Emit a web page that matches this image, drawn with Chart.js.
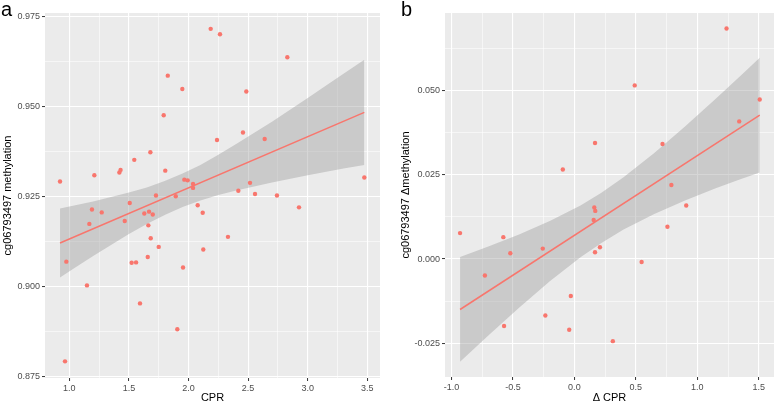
<!DOCTYPE html>
<html>
<head>
<meta charset="utf-8">
<script src="https://cdn.jsdelivr.net/npm/chart.js@4.4.1/dist/chart.umd.min.js"></script>
<style>
  body { margin: 0; background: #fff; width: 778px; height: 405px; position: relative; overflow: hidden; font-family: 'Liberation Sans', Arial, sans-serif; }
  .panel { position: absolute; top: 0; }
  .etiqueta { position: absolute; top: -1px; font-size: 20px; line-height: 20px; color: #000; }
</style>
</head>
<body>
<canvas id="graficoA" class="panel" width="390" height="405" style="left:0"></canvas>
<canvas id="graficoB" class="panel" width="388" height="405" style="left:390px"></canvas>
<div class="etiqueta" style="left:1px">a</div>
<div class="etiqueta" style="left:401px">b</div>
<script>
// Panel a: CPR vs metilación
const cprA = [0.922, 1.210, 1.420, 1.430, 1.545, 1.680, 1.792, 1.805, 1.826, 1.948, 1.965, 1.993, 2.038, 2.038, 2.186, 2.264, 2.239, 2.418, 2.457, 2.485, 2.516, 2.558, 2.639, 2.742, 2.829, 3.475, 1.727, 1.893, 1.190, 1.272, 1.168, 1.507, 1.465, 1.629, 1.669, 1.700, 1.663, 1.683, 1.750, 1.658, 1.523, 1.560, 1.954, 2.077, 2.119, 2.124, 2.331, 2.927, 0.975, 1.148, 1.593, 1.906, 0.964];
const methA = [0.9293, 0.9310, 0.9318, 0.9325, 0.9353, 0.9374, 0.9477, 0.9323, 0.9587, 0.9550, 0.9298, 0.9296, 0.9286, 0.9275, 0.9717, 0.9702, 0.9408, 0.9267, 0.9429, 0.9543, 0.9289, 0.9258, 0.9411, 0.9254, 0.9638, 0.9304, 0.9254, 0.9252, 0.9215, 0.9207, 0.9175, 0.9233, 0.9183, 0.9204, 0.9209, 0.9201, 0.9171, 0.9135, 0.9111, 0.9083, 0.9067, 0.9068, 0.9054, 0.9227, 0.9206, 0.9104, 0.9139, 0.9221, 0.9070, 0.9004, 0.8954, 0.8882, 0.8793];
const fitXA = [0.922, 3.475];
const fitYA = [0.9122, 0.9485];
const bandXA = [0.922, 1.05, 1.2, 1.5, 1.65, 1.8, 1.95, 2.1, 2.25, 2.4, 2.7, 3.0, 3.3, 3.475];
const bandLoA = [0.9026, 0.9054, 0.9086, 0.9147, 0.9175, 0.9200, 0.9222, 0.9240, 0.9255, 0.9268, 0.9290, 0.9310, 0.9329, 0.9339];
const bandHiA = [0.9218, 0.9227, 0.9237, 0.9262, 0.9276, 0.9294, 0.9315, 0.9339, 0.9367, 0.9397, 0.9459, 0.9525, 0.9592, 0.9631];
const xMayoresA = [1.0, 1.5, 2.0, 2.5, 3.0, 3.5];
const xMenoresA = [1.25, 1.75, 2.25, 2.75, 3.25];
const xEtiquetasA = ['1.0', '1.5', '2.0', '2.5', '3.0', '3.5'];
const yMayoresA = [0.875, 0.9, 0.925, 0.95, 0.975];
const yMenoresA = [0.8875, 0.9125, 0.9375, 0.9625];
const yEtiquetasA = ['0.875', '0.900', '0.925', '0.950', '0.975'];

// Panel b: cambios (delta)
const dCprB = [1.238, 0.491, 1.508, 1.341, 0.168, 0.717, -0.094, 0.789, 0.910, 0.162, 0.170, 0.157, 0.757, -0.930, -0.578, -0.521, -0.257, 0.168, 0.208, 0.547, -0.728, -0.029, -0.236, -0.572, -0.042, 0.313];
const dMethB = [0.0685, 0.0516, 0.0474, 0.0409, 0.0345, 0.0342, 0.0266, 0.0220, 0.0159, 0.0153, 0.0143, 0.0116, 0.0096, 0.0077, 0.0065, 0.0017, 0.0031, 0.0020, 0.0035, -0.0009, -0.0049, -0.0110, -0.0168, -0.0199, -0.0210, -0.0244];
const fitXB = [-0.930, 1.508];
const fitYB = [-0.0150, 0.0428];
const bandXB = [-0.930, -0.70, -0.45, -0.20, 0.05, 0.22, 0.40, 0.65, 0.90, 1.15, 1.35, 1.508];
const bandLoB = [-0.0305, -0.0227, -0.0145, -0.0066, 0.0005, 0.0048, 0.0088, 0.0134, 0.0174, 0.0210, 0.0237, 0.0257];
const bandHiB = [0.0006, 0.0037, 0.0073, 0.0113, 0.0159, 0.0197, 0.0243, 0.0315, 0.0394, 0.0476, 0.0544, 0.0598];
const xMayoresB = [-1.0, -0.5, 0.0, 0.5, 1.0, 1.5];
const xMenoresB = [-0.75, -0.25, 0.25, 0.75, 1.25];
const xEtiquetasB = ['-1.0', '-0.5', '0.0', '0.5', '1.0', '1.5'];
const yMayoresB = [-0.025, 0.0, 0.025, 0.05];
const yMenoresB = [-0.0125, 0.0125, 0.0375, 0.0625];
const yEtiquetasB = ['-0.025', '0.000', '0.025', '0.050'];

const fuente = "'Liberation Sans', Arial, sans-serif";
const colorPunto = '#F8766D';
const colorBanda = 'rgba(153,153,153,0.4)';

// Fondo gris del panel (estilo ggplot)
const fondoPanel = {
    id: 'fondoPanel',
    beforeDraw(chart) {
        const { ctx, chartArea: a } = chart;
        ctx.save();
        ctx.fillStyle = '#EBEBEB';
        ctx.fillRect(a.left, a.top, a.right - a.left, a.bottom - a.top);
        ctx.restore();
    }
};

const aPuntos = (xs, ys) => xs.map((x, i) => ({ x, y: ys[i] }));
const indiceMayor = (lista, v) => lista.findIndex(m => Math.abs(m - v) < 1e-9);

const crearEje = (cfg) => ({
    type: 'linear',
    min: cfg.min,
    max: cfg.max,
    afterBuildTicks: eje => {
        eje.ticks = [...cfg.mayores, ...cfg.menores].sort((p, q) => p - q).map(v => ({ value: v }));
    },
    afterFit: eje => {
        if (cfg.ancho) eje.width = cfg.ancho;
        if (cfg.alto) eje.height = cfg.alto;
    },
    border: { display: false },
    grid: {
        color: '#FFFFFF',
        lineWidth: c => (c.tick && indiceMayor(cfg.mayores, c.tick.value) >= 0) ? 1.1 : 0.55,
        tickLength: 3,
        tickWidth: 1,
        tickColor: c => (c.tick && indiceMayor(cfg.mayores, c.tick.value) >= 0) ? '#333333' : 'rgba(0,0,0,0)'
    },
    ticks: {
        autoSkip: false,
        maxRotation: 0,
        minRotation: 0,
        padding: 2,
        color: '#4D4D4D',
        font: { family: fuente, size: 9 },
        callback: v => {
            const i = indiceMayor(cfg.mayores, v);
            return i >= 0 ? cfg.etiquetas[i] : '';
        }
    },
    title: {
        display: true,
        text: cfg.titulo,
        color: '#000000',
        font: { family: fuente, size: 11 },
        padding: cfg.tituloPad
    }
});

const crearDatasets = (xs, ys, fx, fy, bx, blo, bhi) => [
    { data: aPuntos(xs, ys), backgroundColor: colorPunto, pointBackgroundColor: colorPunto, pointRadius: 2.2, pointBorderWidth: 0, showLine: false },
    { data: aPuntos(fx, fy), showLine: true, borderColor: colorPunto, borderWidth: 1.5, pointRadius: 0, fill: false },
    { data: aPuntos(bx, bhi), showLine: true, borderColor: 'rgba(0,0,0,0)', borderWidth: 0, pointRadius: 0, fill: '+1', backgroundColor: colorBanda },
    { data: aPuntos(bx, blo), showLine: true, borderColor: 'rgba(0,0,0,0)', borderWidth: 0, pointRadius: 0, fill: false }
];

const crearGrafico = (id, datasets, padding, ejeX, ejeY) => new Chart(document.getElementById(id).getContext('2d'), {
    type: 'scatter',
    data: { datasets },
    options: {
        responsive: false,
        animation: false,
        layout: { padding },
        plugins: { legend: { display: false }, tooltip: { enabled: false } },
        scales: { x: crearEje(ejeX), y: crearEje(ejeY) }
    },
    plugins: [fondoPanel]
});

crearGrafico('graficoA',
    crearDatasets(cprA, methA, fitXA, fitYA, bandXA, bandLoA, bandHiA),
    { top: 13, right: 10, bottom: 0, left: 0 },
    { min: 0.796, max: 3.6065, mayores: xMayoresA, menores: xMenoresA, etiquetas: xEtiquetasA, titulo: 'CPR', alto: 27, tituloPad: { top: 0, bottom: 0 } },
    { min: 0.87467, max: 0.97611, mayores: yMayoresA, menores: yMenoresA, etiquetas: yEtiquetasA, titulo: 'cg06793497 methylation', ancho: 45, tituloPad: { top: 1.4, bottom: 0 } }
);

crearGrafico('graficoB',
    crearDatasets(dCprB, dMethB, fitXB, fitYB, bandXB, bandLoB, bandHiB),
    { top: 13, right: 2, bottom: 0, left: 9 },
    { min: -1.0525, max: 1.624, mayores: xMayoresB, menores: xMenoresB, etiquetas: xEtiquetasB, titulo: 'Δ CPR', alto: 28, tituloPad: { top: 0, bottom: 0 } },
    { min: -0.03506, max: 0.07312, mayores: yMayoresB, menores: yMenoresB, etiquetas: yEtiquetasB, titulo: 'cg06793497 Δmethylation', ancho: 46, tituloPad: { top: 0.4, bottom: 0 } }
);
</script>
</body>
</html>
